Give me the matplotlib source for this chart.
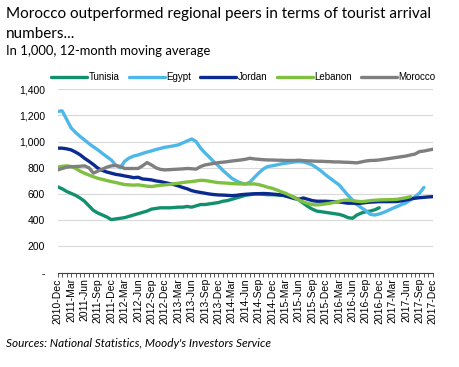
import matplotlib.pyplot as plt
from matplotlib.ticker import FixedLocator, FuncFormatter

# months from 2010-Dec to 2017-Dec
months = []
for y in range(2010, 2018):
    for m in ['Jan', 'Feb', 'Mar', 'Apr', 'May', 'Jun', 'Jul', 'Aug', 'Sep', 'Oct', 'Nov', 'Dec']:
        months.append(f'{y}-{m}')
months = months[11:]

tunisia = [655, 640, 620, 605, 590, 570, 545, 510, 475, 455, 440, 425, 405, 410, 415, 420, 430, 440,
           450, 460, 470, 485, 490, 495, 495, 495, 497, 500, 500, 505, 500, 510, 520, 520, 525, 530,
           535, 545, 550, 560, 570, 580, 590, 595, 600, 600, 598, 595, 595, 593, 590, 590, 585, 575,
           555, 530, 505, 485, 470, 465, 460, 455, 450, 445, 435, 420, 415, 440, 455, 465, 470, 480, 495]
egypt = [1230, 1235, 1170, 1105, 1070, 1040, 1013, 985, 960, 937, 910, 885, 860, 820, 800, 850, 875, 890,
         898, 910, 920, 929, 940, 948, 957, 962, 968, 975, 990, 1005, 1020, 1000, 950, 913, 880, 845,
         815, 780, 750, 720, 700, 685, 675, 690, 725, 760, 790, 810, 815, 822, 830, 835, 840, 845,
         847, 845, 835, 822, 800, 775, 746, 720, 695, 670, 630, 590, 555, 520, 495, 473, 445, 440,
         448, 460, 475, 491, 505, 520, 534, 555, 580, 606, 650]
jordan = [950, 950, 945, 937, 920, 900, 873, 850, 825, 797, 780, 768, 759, 750, 745, 738, 732, 725,
          728, 715, 712, 708, 700, 695, 687, 680, 672, 662, 650, 640, 626, 618, 612, 606, 600, 596,
          593, 592, 590, 588, 590, 595, 598, 600, 602, 603, 604, 603, 600, 597, 593, 585, 575, 565,
          560, 570, 560, 550, 545, 545, 545, 543, 542, 540, 535, 530, 530, 528, 530, 535, 538, 540,
          542, 542, 542, 542, 543, 548, 555, 562, 568, 572, 575, 578, 580]
lebanon = [805, 812, 815, 810, 795, 775, 759, 745, 732, 720, 712, 703, 695, 688, 680, 672, 670, 668,
           670, 665, 660, 657, 662, 667, 670, 673, 678, 682, 688, 692, 695, 700, 705, 703, 698, 692,
           687, 685, 683, 680, 678, 677, 677, 677, 677, 672, 663, 652, 644, 632, 618, 606, 590, 572,
           555, 540, 528, 520, 517, 520, 525, 530, 538, 545, 552, 555, 550, 545, 542, 545, 550, 553,
           555, 556, 557, 558, 560, 566, 572, 580]
morocco = [784, 795, 805, 809, 810, 812, 815, 800, 760, 775, 790, 805, 815, 818, 810, 795, 795, 795,
           795, 815, 840, 822, 800, 788, 784, 786, 788, 790, 792, 795, 793, 790, 810, 822, 828, 834,
           840, 843, 847, 852, 856, 860, 865, 873, 868, 865, 862, 860, 860, 858, 858, 856, 856, 856,
           858, 855, 853, 852, 850, 850, 848, 847, 845, 845, 843, 842, 840, 838, 845, 852, 856, 857,
           860, 865, 870, 875, 880, 885, 890, 898, 905, 924, 928, 935, 942]

series = [('Tunisia', tunisia, '#12906E'), ('Egypt', egypt, '#4DB8E8'), ('Jordan', jordan, '#0A2A8F'),
          ('Lebanon', lebanon, '#7DC13E'), ('Morocco', morocco, '#7F7F7F')]

plt.rcParams['font.family'] = ['Liberation Sans', 'DejaVu Sans']

fig = plt.figure(figsize=(4.6, 3.67), dpi=100)
ax = fig.add_axes([0.1254, 0.257, 0.8156, 0.5])

for name, vals, col in series:
    ax.plot(range(len(vals)), vals, color=col, lw=2.4, label=name, solid_capstyle='round')

ax.set_xlim(0, len(months) - 1)
ax.set_ylim(0, 1400)
ax.set_yticks(range(0, 1401, 200))
ax.yaxis.set_major_formatter(FuncFormatter(lambda v, p: '-' if v == 0 else f'{int(v):,}'))
ax.grid(axis='y', color='#D9D9D9', lw=0.8)
ax.set_axisbelow(True)

ax.xaxis.set_major_locator(FixedLocator(range(0, len(months), 3)))
ax.set_xticklabels(months[::3], rotation=90, fontsize=7.5)
ax.xaxis.set_minor_locator(FixedLocator(range(len(months))))
ax.tick_params(axis='x', which='both', length=3, color='#404040', width=0.6, pad=1)
ax.tick_params(axis='y', length=0, labelsize=7.5, pad=9)

for s in ['top', 'right', 'left']:
    ax.spines[s].set_visible(False)
ax.spines['bottom'].set_color('#404040')
ax.spines['bottom'].set_linewidth(0.8)

ax.legend(loc='lower center', bbox_to_anchor=(0.495, 1.0), ncol=5, frameon=False, fontsize=7,
          handlelength=3.7, handletextpad=0.15, columnspacing=0.95, borderaxespad=0.3)

fig.text(0.012, 0.963, 'Morocco outperformed regional peers in terms of tourist arrival',
         fontsize=11, family='Lato', va='center')
fig.text(0.012, 0.907, 'numbers...', fontsize=11, family='Lato', va='center')
fig.text(0.012, 0.862, 'In 1,000, 12-month moving average', fontsize=9.4, family='Lato', va='center')
fig.text(0.012, 0.065, "Sources: National Statistics, Moody's Investors Service", fontsize=8.5,
         family='Lato', style='italic', va='center')

fig.savefig('out.png', dpi=100)
